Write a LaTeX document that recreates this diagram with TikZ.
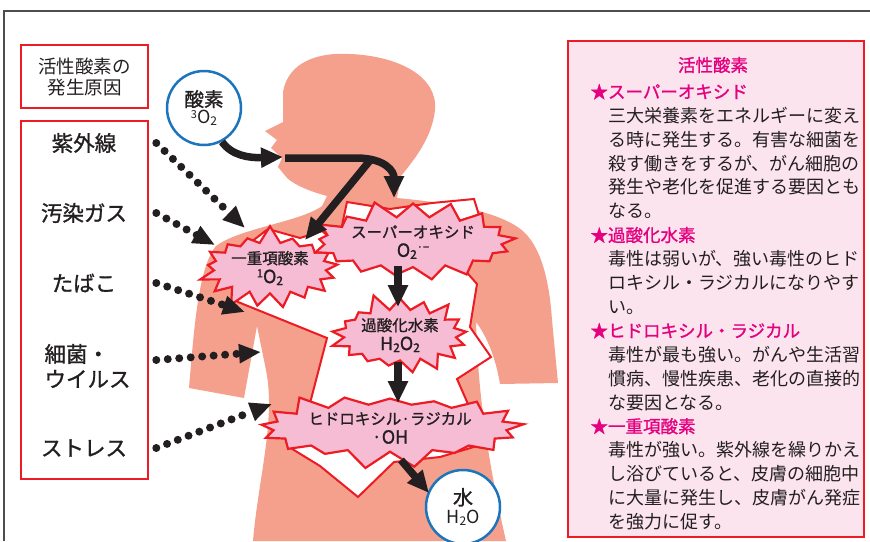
\documentclass[tikz,border=0pt]{standalone}
\usepackage{fontspec}
\setmainfont{Noto Sans CJK JP}
\newfontfamily\medium{Noto Sans CJK JP}[FakeBold=1.2]
\usetikzlibrary{arrows.meta,shapes.symbols,positioning}
\definecolor{ink}{HTML}{231F20}
\definecolor{alert}{HTML}{ED1C24}
\definecolor{skin}{HTML}{F4A08D}
\definecolor{burst}{HTML}{F6BCD3}
\definecolor{panel}{HTML}{FCE4EE}
\definecolor{hot}{HTML}{E4007F}
\definecolor{ring}{HTML}{1C75BC}
\definecolor{frame}{HTML}{4D4D4D}
\newcommand\fml[1]{{\fontsize{18}{19}\selectfont #1}}
\newcommand\up[1]{\raisebox{.6ex}{\fontsize{11}{11}\selectfont #1}}
\newcommand\dn[1]{\raisebox{-.2ex}{\fontsize{12}{12}\selectfont #1}}
\tikzset{frm/.style={draw=alert,line width=2.6pt},
cause/.style={font=\medium\fontsize{21.5}{25}\selectfont,text=ink,align=left},
mol/.style={circle,draw=ring,line width=2.5pt,fill=white,minimum size=74pt,inner sep=0pt,align=center,text=ink},
burstnode/.style={starburst,draw=alert,fill=burst,line width=2.2pt,align=center,text=ink,
  font=\medium\fontsize{15.5}{19}\selectfont,inner sep=1pt,starburst point height=18pt},
flow/.style={line width=7.5pt,ink,-{Triangle[length=22pt,width=19pt]}},
dots/.style={line width=8pt,ink,line cap=round,dash pattern=on 0pt off 11.5pt,
  -{Triangle[length=22pt,width=18pt]}},
heading/.style={text=hot,font=\medium\fontsize{17.5}{20}\selectfont}}

\begin{document}
\begin{tikzpicture}[x=1pt,y=-1pt]
\useasboundingbox (0,0) rectangle (870,541);
% frame: only top and left edges are on the page
\draw[frame,line width=1.6pt] (4,541) -- (4,11) -- (870,11);

% body
\fill[skin] (283,122) -- (283,92)
  .. controls (288,62) and (318,52) .. (350,54)
  .. controls (398,56) and (438,76) .. (435,110)
  .. controls (432,138) and (414,160) .. (401,176)
  -- (397,198)
  .. controls (440,202) and (500,210) .. (524,232)
  .. controls (544,251) and (550,290) .. (552,320)
  -- (558,383) -- (500,384)
  .. controls (496,360) and (488,338) .. (476,322)
  .. controls (478,400) and (490,470) .. (506,541)
  -- (253,541)
  .. controls (258,480) and (276,420) .. (266,370)
  -- (257,326) -- (244,398) -- (189,388)
  .. controls (194,330) and (198,268) .. (216,246)
  .. controls (240,228) and (300,222) .. (322,206)
  -- (327,196)
  .. controls (312,192) and (296,186) .. (287,178)
  -- (278,167) -- (282,158) -- (271,148) -- (277,140) -- (265,131)
  -- cycle;

% white zone behind the bursts
\filldraw[draw=alert,fill=white,line width=2pt,line join=miter]
  (268,229) -- (300,238) -- (322,231) -- (338,244) -- (347,202)
  -- (390,209) -- (432,203) -- (474,199) -- (483,228) -- (462,267)
  -- (477,284) -- (470,327) -- (491,357) -- (457,379) -- (475,420)
  -- (494,441) -- (440,457) -- (394,462) -- (358,497) -- (320,466)
  -- (289,447) -- (303,430) -- (327,338) -- (238,302) -- (225,262) -- cycle;

% bursts
\node[burstnode,random starburst=7,minimum width=122pt,minimum height=74pt] (singlet) at (270,268)
  {一重項酸素\\\fml{\up{1}O\dn{2}}};
\node[burstnode,random starburst=11,minimum width=178pt,minimum height=82pt] (superox) at (413,242)
  {スーパーオキシド\\\fml{O\dn{2}\up{·−}}};
\node[burstnode,random starburst=5,minimum width=146pt,minimum height=58pt] (peroxide) at (400,335)
  {過酸化水素\\\fml{H\dn{2}O\dn{2}}};
\node[burstnode,random starburst=3,minimum width=194pt,minimum height=66pt] (hydroxyl) at (390,428)
  {ヒドロキシル·ラジカル\\\fml{·OH}};

% molecules
\node[mol] (oxy) at (204,108) {{\medium\fontsize{19.5}{22}\selectfont 酸素}\\[1pt]\fml{\up{3}O\dn{2}}};
\node[mol] (water) at (463,507) {{\medium\fontsize{20}{24}\selectfont 水}\\[3pt]\fml{H\dn{2}O}};

% breathing path
\coordinate (mouth) at (283,157);
\coordinate (throat) at (372,158);
\coordinate (supin) at (394,198);
\coordinate (sglin) at (305,240);
\draw[flow] (oxy.-62) .. controls (232,156) and (250,158) .. (mouth);
\draw[flow] (285,158) -- (356,158) .. controls (386,158) and (394,172) .. (supin);
\draw[flow] (throat) -- (sglin);
\coordinate (s1) at (398,266);
\coordinate (p0) at (398,307);
\coordinate (p1) at (398,362);
\coordinate (h0) at (398,403);
\coordinate (h1) at (401,460);
\coordinate (w0) at (429,493);
\draw[flow] (s1) -- (p0);
\draw[flow] (p1) -- (h0);
\draw[flow] (h1) -- (w0);

% causes
\node[frm,minimum width=127pt,minimum height=63pt] (head) at (84.5,76.5) {};
\node[text=ink,align=center,font=\fontsize{18.5}{21}\selectfont] at (head) {活性酸素の\\発生原因};
\node[frm,minimum width=127pt,minimum height=358pt] (causes) at (84.5,300) {};
\node[cause] (uv) at (84,143) {紫外線};
\node[cause] (gas) at (84,213) {汚染ガス};
\node[cause] (smoke) at (84,283) {たばこ};
\node[cause,anchor=west] (germ) at (41,366) {細菌・\\ウイルス};
\node[cause] (stress) at (84,448) {ストレス};
\coordinate (uvhit) at (245,228);
\coordinate (gashit) at (215,245);
\coordinate (smokehit) at (245,312);
\coordinate (germhit) at (261,352);
\coordinate (stresshit) at (272,404);
\draw[dots] ([xshift=7pt]causes.east |- uv) -- (uvhit);
\draw[dots] ([xshift=7pt]causes.east |- gas) -- (gashit);
\draw[dots] ([xshift=7pt]causes.east |- smoke) -- (smokehit);
\draw[dots] ([xshift=7pt,yshift=6pt]causes.east |- germ) -- (germhit);
\draw[dots] ([xshift=7pt]causes.east |- stress) -- (stresshit);

% notes on the right
\draw[frm,fill=panel] (568,41) rectangle (864,537);
\node[heading] (ntitle) at (713,65) {活性酸素};
\node[anchor=base west,align=left,text=ink,font=\fontsize{18}{23.9}\selectfont] (notes) at (587,528.5)
{{\color{hot}\medium\fontsize{17.5}{23.9}\selectfont ★スーパーオキシド}\\
\hspace*{17.5pt}三大栄養素をエネルギーに変え\\
\hspace*{17.5pt}る時に発生する。有害な細菌を\\
\hspace*{17.5pt}殺す働きをするが、がん細胞の\\
\hspace*{17.5pt}発生や老化を促進する要因とも\\
\hspace*{17.5pt}なる。\\
{\color{hot}\medium\fontsize{17.5}{23.9}\selectfont ★過酸化水素}\\
\hspace*{17.5pt}毒性は弱いが、強い毒性のヒド\\
\hspace*{17.5pt}ロキシル・ラジカルになりやす\\
\hspace*{17.5pt}い。\\
{\color{hot}\medium\fontsize{17.5}{23.9}\selectfont ★ヒドロキシル・ラジカル}\\
\hspace*{17.5pt}毒性が最も強い。がんや生活習\\
\hspace*{17.5pt}慣病、慢性疾患、老化の直接的\\
\hspace*{17.5pt}な要因となる。\\
{\color{hot}\medium\fontsize{17.5}{23.9}\selectfont ★一重項酸素}\\
\hspace*{17.5pt}毒性が強い。紫外線を繰りかえ\\
\hspace*{17.5pt}し浴びていると、皮膚の細胞中\\
\hspace*{17.5pt}に大量に発生し、皮膚がん発症\\
\hspace*{17.5pt}を強力に促す。};
\end{tikzpicture}
\end{document}
